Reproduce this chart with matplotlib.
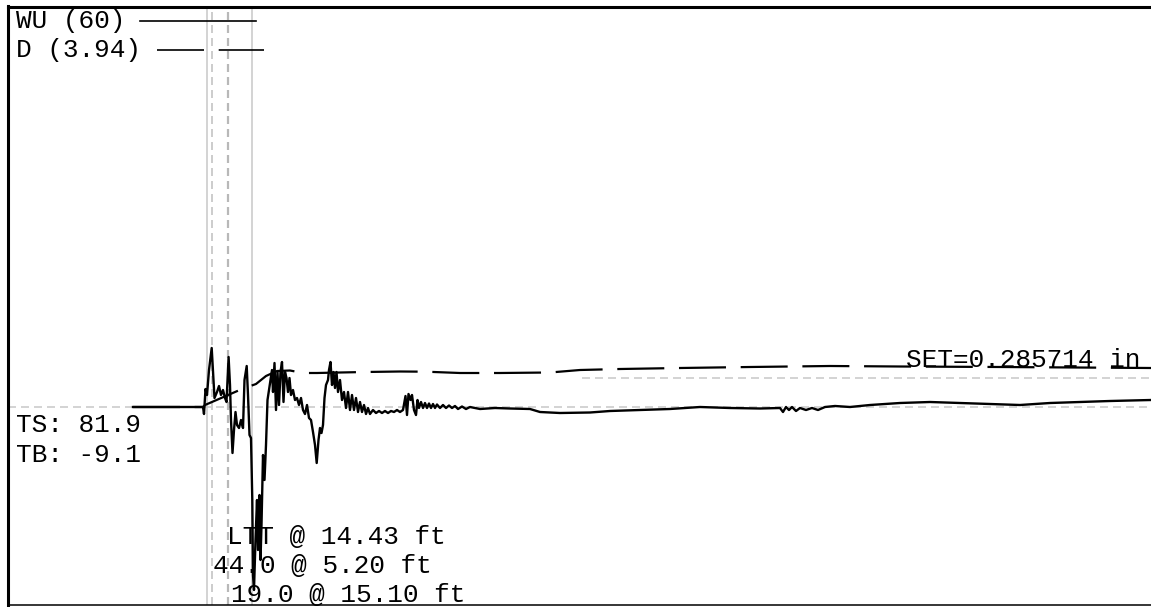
import matplotlib.pyplot as plt

plt.rcParams['lines.scale_dashes'] = False
plt.rcParams['font.family'] = ['Liberation Mono', 'DejaVu Sans Mono']

# Tempo (ms) e sinal principal (traço contínuo)
t_sinal = [12.5, 19.5, 19.6, 19.75, 19.9, 20.1, 20.37, 20.5, 20.65, 20.9, 21.1, 21.3, 21.5, 21.7,
           21.85, 22.06, 22.2, 22.3, 22.45, 22.6, 22.75, 22.9, 23.1, 23.3, 23.5, 23.65, 23.87,
           24.0, 24.15, 24.3, 24.43, 24.5, 24.6, 24.75, 24.9, 25.0, 25.15, 25.25, 25.35, 25.5,
           25.65, 25.8, 25.95, 26.1, 26.25, 26.4, 26.5, 26.65, 26.8, 26.95, 27.1, 27.25, 27.4,
           27.55, 27.7, 27.85, 28.0, 28.15, 28.3, 28.5, 28.7, 28.9, 29.1, 29.3, 29.5, 29.7, 29.9,
           30.1, 30.3, 30.5, 30.7, 30.87, 31.05, 31.2, 31.35, 31.5, 31.65, 31.8, 32.0, 32.1,
           32.25, 32.4, 32.55, 32.7, 32.85, 33.0, 33.2, 33.4, 33.6, 33.8, 34.0, 34.2, 34.4, 34.6,
           34.8, 35.0, 35.2, 35.4, 35.6, 35.8, 36.0, 36.2, 36.5, 36.8, 37.1, 37.4, 37.7, 38.0,
           38.3, 38.6, 38.9, 39.2, 39.5, 39.75, 39.9, 40.05, 40.25, 40.4, 40.6, 40.8, 40.95,
           41.1, 41.3, 41.5, 41.7, 41.9, 42.1, 42.3, 42.5, 42.7, 42.9, 43.2, 43.5, 43.8, 44.1,
           44.4, 44.7, 45.0, 45.4, 45.8, 46.2, 47.2, 48.7, 50.2, 52.2, 53.2, 55.2, 58.2, 60.2,
           63.2, 66.2, 69.2, 72.2, 75.2, 77.2, 77.5, 77.8, 78.1, 78.4, 78.8, 79.2, 79.8, 80.4,
           81.0, 81.7, 82.7, 84.2, 86.2, 89.2, 92.2, 95.2, 98.2, 101.2, 104.2, 107.2, 110.2, 114.3]
sinal = [0, 0, -0.7, 1.8, 1.2, 3.7, 5.9, 3.5, 0.9, 1.5, 2.1, 1.2, 1.7, 0.9,
         0.5, 5.0, 2.2, -1.3, -4.6, -2.3, -0.5, -1.8, -2.1, -1.3, -2.1, 2.7, 4.1,
         1.2, -2.8, -3.1, -9.3, -16.8, -18.3, -13.3, -9.3, -14.3, -8.8, -15.3, -11.8, -4.8,
         -7.3, -3.8, 0.7, 1.7, 2.7, 3.7, 1.5, 4.4, -0.3, 3.5, 0.2, 3.5, 4.5,
         0.5, 3.5, 2.9, 1.5, 2.9, 1.2, 1.7, 0.7, 0.9, 0.2, 0.9, -0.3, -0.7, 0.2,
         -1.1, -1.3, -2.5, -3.8, -5.6, -3.3, -2.1, -2.6, -1.8, 0.9, 2.2, 2.7, 3.7,
         4.5, 2.2, 3.5, 1.9, 3.5, 1.5, 2.7, 0.7, 1.5, -0.1, 1.5, -0.3, 1.2, -0.3,
         0.9, -0.5, 0.5, -0.5, 0.2, -0.7, -0.1, -0.7, -0.3, -0.6, -0.4, -0.6, -0.4, -0.6,
         -0.4, -0.5, -0.3, -0.5, -0.3, 1.1, -0.8, 1.3, 0.7, 1.2, -0.3, -0.8, 0.7,
         -0.1, 0.5, -0.1, 0.4, -0.1, 0.35, -0.1, 0.3, -0.1, 0.25, -0.1, 0.2, -0.1, 0.15,
         -0.1, 0.1, -0.2, 0.05, -0.2, 0, -0.2, -0.1, -0.15, -0.2, -0.5, -0.6, -0.55, -0.4,
         -0.3, -0.2, 0, -0.1, -0.15, -0.1, -0.5, 0, -0.3, 0, -0.4, -0.1, -0.3, -0.1,
         -0.3, 0, 0.1, 0, 0.2, 0.4, 0.5, 0.4, 0.3, 0.2, 0.4, 0.5, 0.6, 0.7]

# Deslocamento (traço tracejado)
t_desl = [12.5, 19.5, 19.7, 23.4, 24.8, 25.8, 26.9, 28.2, 29.5, 30.9, 33.2, 35.7, 39.2, 41.8,
          45.2, 49.2, 54.2, 57.2, 61.2, 67.2, 74.2, 82.2, 89.2, 99.2, 114.3]
desl = [0, 0, 0.2, 1.8, 2.3, 3.1, 3.6, 3.65, 3.4, 3.4, 3.45, 3.5, 3.55, 3.53,
        3.4, 3.4, 3.45, 3.7, 3.8, 3.9, 4.0, 4.1, 4.05, 4.0, 3.9]

# Marcas verticais (ms) e nível SET
marcas_solidas = [19.87, 24.37]
marcas_tracejadas = [20.4, 22.0]
nivel_set = 2.9
inicio_set = 57.4

fig = plt.figure(figsize=(11.51, 6.07), dpi=100)
ax = fig.add_axes([8 / 1151, 2 / 607, 1 - 8 / 1151, 598.5 / 607])
ax.set_xlim(0, 114.3)
ax.set_ylim(-19.8, 40.05)
ax.set_xticks([])
ax.set_yticks([])
ax.spines['right'].set_visible(False)
ax.spines['left'].set_linewidth(2.2)
ax.spines['top'].set_linewidth(2.2)
ax.spines['bottom'].set_linewidth(1.1)

px = 72 / 100  # pontos por pixel
tracejado_cinza = (0, (8 * px, 5 * px))
tracejado_longo = (0, (47 * px, 14.7 * px))

# Linhas de referência
ax.axhline(0, color='#c8c8c8', lw=1.1, linestyle=tracejado_cinza, zorder=1)
ax.plot([inicio_set, 114.3], [nivel_set, nivel_set], color='#c8c8c8', lw=1.1,
        linestyle=tracejado_cinza, zorder=1)
for xm in marcas_solidas:
    ax.axvline(xm, color='#c8c8c8', lw=1.1, zorder=1)
ax.axvline(marcas_tracejadas[0], color='#cccccc', lw=1.4, linestyle=tracejado_cinza, zorder=1)
ax.axvline(marcas_tracejadas[1], color='#b8b8b8', lw=1.6, linestyle=tracejado_cinza, zorder=1)

# Curvas
ax.plot(t_sinal, sinal, color='black', lw=1.7, zorder=3)
ax.plot(t_desl, desl, color='black', lw=1.6, linestyle=tracejado_longo, zorder=3)

# Legendas manuais
fs = 18.8
ax.text(0.85, 38.6, 'WU (60)', fontsize=fs, va='center', ha='left')
ax.plot([13.2, 24.8], [38.6, 38.6], color='black', lw=1.2)
ax.text(0.85, 35.7, 'D (3.94)', fontsize=fs, va='center', ha='left')
ax.plot([14.9, 25.6], [35.7, 35.7], color='black', lw=1.2, linestyle=tracejado_longo)

ax.text(0.85, -1.8, 'TS: 81.9', fontsize=fs, va='center', ha='left')
ax.text(0.85, -4.8, 'TB: -9.1', fontsize=fs, va='center', ha='left')
ax.text(89.8, 4.65, 'SET=0.285714 in', fontsize=fs, va='center', ha='left')

ax.text(21.9, -13.0, 'LTT @ 14.43 ft', fontsize=fs, va='center', ha='left')
ax.text(20.5, -15.9, '44.0 @ 5.20 ft', fontsize=fs, va='center', ha='left')
ax.text(22.3, -18.75, '19.0 @ 15.10 ft', fontsize=fs, va='center', ha='left')

fig.savefig('out.png', dpi=100)
